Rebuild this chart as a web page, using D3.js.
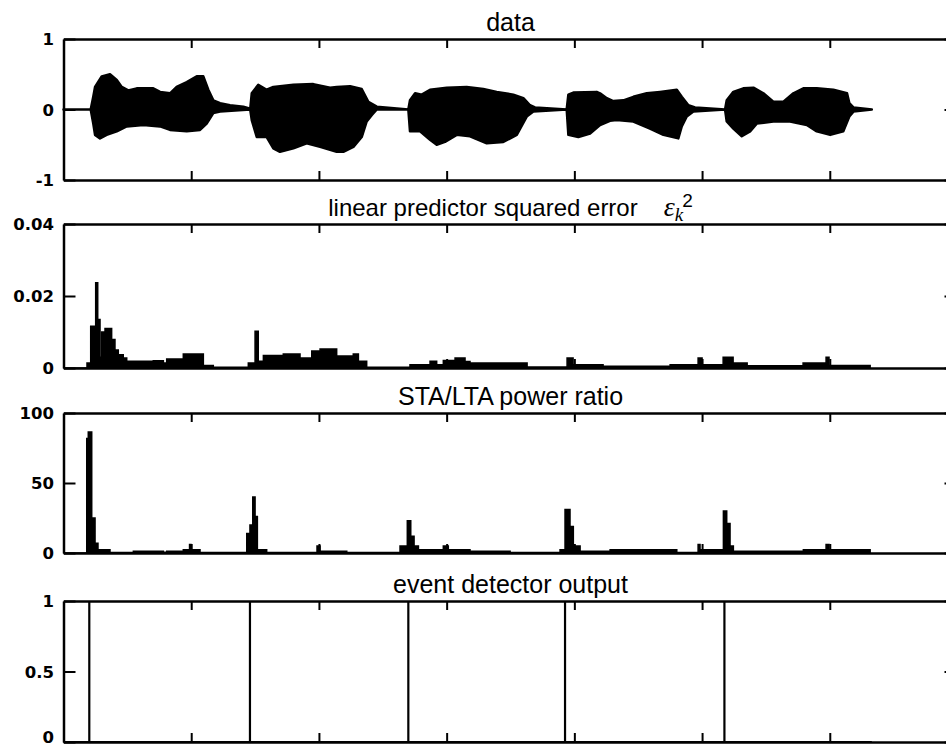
<!DOCTYPE html>
<html>
<head>
<meta charset="utf-8">
<script src="https://cdn.jsdelivr.net/npm/d3@7"></script>
<style>
  body { margin: 0; background: #fff; }
  svg { display: block; }
</style>
</head>
<body>
<svg id="chart"></svg>
<script>
// x in thousands of samples, ticks every 1000
const xDomain = [0, 7];
const xTicks = [1, 2, 3, 4, 5, 6];

const panelTitles = ["data", "linear predictor squared error", "STA/LTA power ratio", "event detector output"];
const yDomains = [[-1, 1], [0, 0.04], [0, 100], [0, 1]];
const yTickVals = [[-1, 0, 1], [0, 0.02, 0.04], [0, 50, 100], [0, 0.5, 1]];
const yTickLabels = [["-1", "0", "1"], ["0", "0.02", "0.04"], ["0", "50", "100"], ["0", "0.5", "1"]];

// upper / lower envelope of the speech waveform [t, amplitude]
const dataTop = [
  [0, 0], [0.213, 0], [0.233, 0.18], [0.247, 0.32], [0.299, 0.47], [0.364, 0.50], [0.417, 0.42], [0.456, 0.32],
  [0.507, 0.27], [0.573, 0.30], [0.703, 0.30], [0.756, 0.25], [0.834, 0.23], [0.886, 0.32], [0.965, 0.39],
  [1.043, 0.47], [1.095, 0.47], [1.134, 0.28], [1.173, 0.13], [1.226, 0.09], [1.304, 0.06], [1.408, 0.04], [1.462, 0.01],
  [1.474, 0.23], [1.525, 0.35], [1.591, 0.28], [1.643, 0.32], [1.800, 0.35], [1.956, 0.36], [2.087, 0.31], [2.139, 0.32],
  [2.244, 0.33], [2.335, 0.29], [2.387, 0.11], [2.453, 0.04], [2.700, 0],
  [2.713, 0.13], [2.753, 0.23], [2.805, 0.21], [2.870, 0.28], [3.001, 0.31], [3.157, 0.32], [3.287, 0.29], [3.392, 0.25],
  [3.522, 0.21], [3.601, 0.16], [3.653, 0.06], [3.692, 0.03], [3.940, 0],
  [3.953, 0.21], [3.992, 0.24], [4.175, 0.25], [4.201, 0.23], [4.254, 0.16], [4.305, 0.12], [4.384, 0.13], [4.462, 0.18],
  [4.567, 0.23], [4.671, 0.25], [4.802, 0.28], [4.841, 0.18], [4.893, 0.06], [4.945, 0.03], [5.180, 0],
  [5.193, 0.13], [5.245, 0.25], [5.323, 0.30], [5.402, 0.31], [5.480, 0.23], [5.558, 0.11], [5.637, 0.11], [5.715, 0.23],
  [5.793, 0.30], [5.898, 0.30], [6.028, 0.28], [6.135, 0.23], [6.153, 0.09], [6.185, 0.03], [6.329, 0]
];
const dataBot = [
  [0, 0], [0.213, 0], [0.233, -0.20], [0.247, -0.36], [0.286, -0.41], [0.338, -0.36], [0.417, -0.31], [0.495, -0.24],
  [0.625, -0.22], [0.756, -0.24], [0.834, -0.29], [0.965, -0.31], [1.069, -0.29], [1.121, -0.20], [1.173, -0.05],
  [1.226, -0.03], [1.462, 0],
  [1.474, -0.15], [1.513, -0.39], [1.591, -0.39], [1.643, -0.55], [1.695, -0.60], [1.800, -0.55], [1.904, -0.48],
  [2.009, -0.53], [2.139, -0.60], [2.191, -0.60], [2.270, -0.53], [2.335, -0.39], [2.374, -0.17], [2.413, -0.08],
  [2.453, 0], [2.700, 0],
  [2.713, -0.31], [2.792, -0.31], [2.870, -0.43], [2.922, -0.50], [2.987, -0.46], [3.079, -0.36], [3.183, -0.38],
  [3.314, -0.48], [3.444, -0.46], [3.549, -0.36], [3.627, -0.10], [3.679, -0.03], [3.940, 0],
  [3.953, -0.36], [4.031, -0.39], [4.123, -0.34], [4.201, -0.22], [4.279, -0.16], [4.332, -0.15], [4.462, -0.17],
  [4.592, -0.27], [4.697, -0.36], [4.814, -0.41], [4.841, -0.24], [4.880, -0.10], [4.932, -0.03], [5.180, 0],
  [5.193, -0.17], [5.245, -0.27], [5.311, -0.38], [5.376, -0.31], [5.428, -0.20], [5.558, -0.17], [5.689, -0.17],
  [5.820, -0.22], [5.898, -0.31], [6.003, -0.36], [6.106, -0.31], [6.153, -0.10], [6.185, -0.03], [6.329, 0]
];

// linear predictor squared error, step values [t, err]
const lpeData = [
  [0, 0], [0.184, 0.0014], [0.213, 0.0116], [0.252, 0.0237], [0.268, 0.0135], [0.286, 0.003], [0.299, 0.0100],
  [0.325, 0.0110], [0.377, 0.0079], [0.403, 0.0050], [0.429, 0.0037], [0.468, 0.0028], [0.495, 0.0019],
  [0.703, 0.0020], [0.782, 0.0014], [0.808, 0.0025], [0.938, 0.0039], [1.095, 0.0007], [1.173, 0.0002],
  [1.447, 0.0014], [1.500, 0.0102], [1.525, 0.0019], [1.565, 0.0035], [1.721, 0.0039], [1.852, 0.0028],
  [1.944, 0.0047], [2.009, 0.0053], [2.139, 0.0033], [2.269, 0.0039], [2.309, 0.0019], [2.374, 0.0002],
  [2.713, 0.0009], [2.870, 0.0019], [2.922, 0.0009], [2.974, 0.0021], [3.066, 0.0028], [3.144, 0.0018],
  [3.183, 0.0014], [3.630, 0.0003], [3.943, 0.0028], [3.990, 0.0009], [4.225, 0.0005], [4.750, 0.0009],
  [4.969, 0.0028], [5.000, 0.0009], [5.165, 0.0030], [5.243, 0.0014], [5.353, 0.0006], [5.791, 0.0014],
  [5.971, 0.0030], [5.994, 0.0007], [6.316, 0]
];

// STA/LTA power ratio, step values [t, ratio]
const staData = [
  [0, 0], [0.182, 81.7], [0.194, 86.5], [0.221, 25], [0.247, 7], [0.270, 2.4], [0.364, 0.3], [0.547, 1.2],
  [0.782, 0.5], [0.808, 1.2], [0.938, 2.4], [0.987, 6], [0.998, 2.4], [1.069, 0.3],
  [1.435, 14], [1.460, 20], [1.482, 40], [1.500, 26], [1.518, 2.4], [1.591, 0.3], [1.985, 5], [2.009, 1.2], [2.218, 0.3],
  [2.635, 5], [2.692, 23], [2.719, 12], [2.745, 5], [2.779, 2.4], [2.974, 5], [3.013, 2.4], [3.183, 1.2], [3.497, 0.3],
  [3.888, 2.4], [3.927, 31], [3.966, 19], [3.992, 5], [4.045, 1.2], [4.280, 2.4], [4.802, 0.3], [4.969, 6], [4.984, 2.4],
  [5.167, 30], [5.193, 21], [5.219, 5], [5.245, 1.2], [5.793, 2.4], [5.971, 6], [5.994, 2.4], [6.316, 0]
];

// detector fires at these times
const eventTimes = [0.202, 1.460, 2.700, 3.927, 5.175];
const dataEnd = 6.329;

const W = 946, H = 748;
const panelTop = [39, 224, 413, 601];
const panelBottom = [180, 368, 553, 742];

const svg = d3.select("#chart").attr("width", W).attr("height", H);
svg.append("rect").attr("width", W).attr("height", H).attr("fill", "#fff");

const x = d3.scaleLinear().domain(xDomain).range([63.5, 957.5]);
const yScales = yDomains.map((dom, i) => d3.scaleLinear().domain(dom).range([panelBottom[i], panelTop[i]]));

// panel 1: waveform as filled envelope
{
  const y = yScales[0];
  const poly = dataTop.concat(dataBot.slice().reverse());
  svg.append("path")
    .attr("d", d3.line().x(d => x(d[0])).y(d => y(d[1]))(poly) + "Z")
    .attr("fill", "#000")
    .attr("stroke", "#000")
    .attr("stroke-width", 2.5)
    .attr("stroke-linejoin", "round");
}

// panels 2 and 3: step areas
[[1, lpeData], [2, staData]].forEach(([i, series]) => {
  const y = yScales[i];
  svg.append("path")
    .attr("d", d3.area().curve(d3.curveStepAfter)
      .x(d => x(d[0])).y0(y(0)).y1(d => y(d[1]))(series))
    .attr("fill", "#000")
    .attr("stroke", "#000")
    .attr("stroke-width", 1.5);
});

// panel 4: binary detector output
{
  const y = yScales[3];
  const pts = [[0, 0]];
  eventTimes.forEach(t => { pts.push([t, 0], [t, 1], [t, 0]); });
  pts.push([dataEnd, 0]);
  svg.append("path")
    .attr("d", d3.line().x(d => x(d[0])).y(d => y(d[1]))(pts))
    .attr("fill", "none")
    .attr("stroke", "#000")
    .attr("stroke-width", 2.2);
}

function styleAxis(g) {
  g.select(".domain").attr("stroke", "#000").attr("stroke-width", 2.5);
  g.selectAll(".tick line").attr("stroke", "#000").attr("stroke-width", 2);
  g.selectAll(".tick text")
    .attr("fill", "#000")
    .attr("dy", "0.36em")
    .style("font-family", "'DejaVu Sans', Verdana, sans-serif")
    .style("font-weight", "bold")
    .style("font-size", "16.5px");
}

panelTitles.forEach((title, i) => {
  const y = yScales[i];

  svg.append("g")
    .attr("transform", `translate(0, ${panelTop[i]})`)
    .call(d3.axisTop(x).tickValues(xTicks).tickFormat("").tickSizeInner(-9).tickSizeOuter(0))
    .call(styleAxis);
  svg.append("g")
    .attr("transform", `translate(0, ${panelBottom[i]})`)
    .call(d3.axisBottom(x).tickValues(xTicks).tickFormat("").tickSizeInner(-9).tickSizeOuter(0))
    .call(styleAxis);
  svg.append("g")
    .attr("transform", `translate(${x.range()[1]}, 0)`)
    .call(d3.axisRight(y).tickValues(yTickVals[i]).tickFormat("").tickSizeInner(-13).tickSizeOuter(0))
    .call(styleAxis);
  const left = svg.append("g")
    .attr("transform", `translate(${x.range()[0]}, 0)`)
    .call(d3.axisLeft(y).tickValues(yTickVals[i])
      .tickFormat((d, j) => yTickLabels[i][j])
      .tickSizeInner(-12).tickSizeOuter(0).tickPadding(9.5))
    .call(styleAxis);
  // keep the lowest label inside the page
  if (i === panelTitles.length - 1) {
    left.selectAll(".tick text").filter(d => d === 0).attr("dy", "0.02em");
  }

  const t = svg.append("text")
    .attr("x", 510.5)
    .attr("y", panelTop[i] - 8)
    .attr("text-anchor", "middle")
    .attr("fill", "#000")
    .style("font-family", "'Liberation Sans', Arial, sans-serif")
    .style("font-size", i === 1 ? "24px" : "25px")
    .text(title);

  if (i === 1) {
    t.append("tspan").attr("dx", 26)
      .style("font-family", "'Liberation Serif', 'Times New Roman', serif")
      .style("font-style", "italic")
      .style("font-size", "28px")
      .text("ε");
    t.append("tspan").attr("dy", 5)
      .style("font-family", "'Liberation Serif', 'Times New Roman', serif")
      .style("font-style", "italic")
      .style("font-size", "19px")
      .text("k");
    t.append("tspan").attr("dy", -14).attr("dx", -1)
      .style("font-size", "19px")
      .text("2");
  }
});
</script>
</body>
</html>
